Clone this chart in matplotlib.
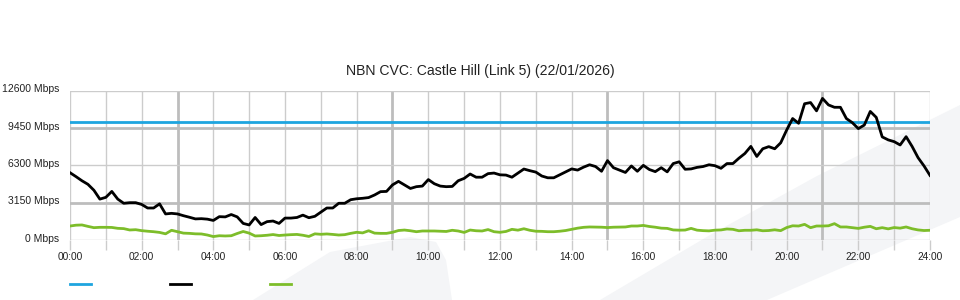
import numpy as np
import matplotlib
matplotlib.use("Agg")
import matplotlib.pyplot as plt
import matplotlib.transforms as mtransforms
from matplotlib.patches import Polygon

plt.rcParams['font.family'] = ['Liberation Sans', 'DejaVu Sans']

# traffic samples, one every 10 minutes from 00:00 to 24:00 (Mbps)
black = [5680, 5350, 5000, 4700, 4200, 3450,
         3600, 4100, 3450, 3100, 3150, 3150,
         3000, 2700, 2700, 3050, 2200, 2250,
         2200, 2050, 1920, 1780, 1800, 1760,
         1650, 1970, 1950, 2150, 1950, 1400,
         1270, 1900, 1300, 1550, 1600, 1400,
         1850, 1850, 1900, 2100, 1880, 2000,
         2350, 2700, 2700, 3100, 3100, 3400,
         3480, 3520, 3580, 3800, 4080, 4100,
         4650, 4950, 4650, 4350, 4500, 4550,
         5100, 4750, 4550, 4500, 4520, 5000,
         5200, 5570, 5300, 5300, 5600, 5650,
         5500, 5480, 5300, 5650, 5990, 5850,
         5730, 5400, 5250, 5250, 5500, 5750,
         6000, 5900, 6150, 6350, 6200, 5800,
         6700, 6100, 5900, 5700, 6250, 5800,
         6300, 5950, 5770, 6100, 5750, 6450,
         6600, 5970, 6000, 6130, 6200, 6350,
         6270, 6050, 6450, 6450, 6900, 7300,
         7900, 7050, 7700, 7880, 7700, 8200,
         9280, 10250, 9850, 11500, 11600, 10900,
         11950, 11400, 11200, 11200, 10250, 9900,
         9400, 9700, 10850, 10350, 8700, 8450,
         8300, 8020, 8720, 7900, 6950, 6250,
         5450]

green = [1180, 1250, 1270, 1150, 1040, 1070,
         1070, 1060, 985, 960, 845, 870,
         790, 740, 700, 640, 520, 820,
         700, 580, 560, 520, 510, 420,
         290, 360, 340, 360, 550, 720,
         580, 340, 360, 400, 460, 380,
         420, 450, 470, 400, 300, 520,
         480, 510, 470, 420, 450, 560,
         650, 600, 780, 580, 560, 560,
         650, 800, 840, 780, 700, 760,
         760, 760, 740, 720, 820, 760,
         640, 840, 780, 760, 880, 700,
         650, 720, 900, 830, 950, 820,
         740, 730, 700, 700, 740, 800,
         900, 1000, 1070, 1100, 1090, 1080,
         1050, 1080, 1090, 1100, 1180, 1180,
         1230, 1140, 1080, 1000, 980, 850,
         830, 840, 980, 830, 790, 770,
         830, 850, 930, 900, 780, 820,
         820, 860, 780, 800, 860, 790,
         1050, 1200, 1180, 1320, 1040, 1180,
         1180, 1200, 1380, 1100, 1100, 1040,
         980, 1080, 1150, 950, 1040, 940,
         1050, 1000, 1100, 950, 850, 800,
         820]

capacity = 10000
y_ticks = [0, 3150, 6300, 9450, 12600]
x_labels = ['00:00', '02:00', '04:00', '06:00', '08:00', '10:00', '12:00',
            '14:00', '16:00', '18:00', '20:00', '22:00', '24:00']
title = 'NBN CVC: Castle Hill (Link 5) (22/01/2026)'

hours = np.arange(len(black)) * 10 / 60

fig = plt.figure(figsize=(9.6, 3), dpi=100)
fig.patch.set_facecolor('white')

# pale background shapes, given in pixels
def px(pts):
    return [(x / 960, 1 - y / 300) for x, y in pts]

shapes = [
    [(253, 300), (330, 252), (410, 237), (436, 242), (446, 260), (452, 300)],
    [(600, 300), (710, 235), (817, 176), (960, 105), (960, 217), (767, 300)],
]
for pts in shapes:
    fig.patches.append(Polygon(px(pts), closed=True, transform=fig.transFigure,
                               facecolor='#f4f5f7', edgecolor='none', zorder=-5))

ax = fig.add_axes([70 / 960, 60 / 300, 860 / 960, 149.3 / 300])
ax.set_zorder(2)
ax.patch.set_alpha(0)

# grid
for h in range(25):
    if h % 6 == 3:
        ax.axvline(h, color='#bdbdbd', lw=2, zorder=1)
    else:
        ax.axvline(h, color='#cccccc', lw=1, zorder=1)
for v in y_ticks:
    if v in (3150, 9450):
        ax.axhline(v, color='#bdbdbd', lw=2, zorder=1)
    else:
        ax.axhline(v, color='#cccccc', lw=1, zorder=1)

ax.axhline(capacity, color='#1ea5df', lw=2, zorder=3)
ax.plot(hours, green, color='#7dbd2a', lw=2, zorder=3)
ax.plot(hours, black, color='black', lw=2, zorder=4)

ax.set_xlim(0, 24)
ax.set_ylim(0, 12600)
for s in ax.spines.values():
    s.set_visible(False)

ax.set_xticks(range(0, 25, 2))
ax.set_xticklabels(x_labels)
ax.set_xticks(range(1, 25, 2), minor=True)
ax.tick_params(axis='x', which='both', length=7, width=1, color='#cccccc',
               labelsize=7.3, labelcolor='#222222', pad=2)
ax.set_yticks(y_ticks)
ax.set_yticklabels([f'{v} Mbps' for v in y_ticks])
ax.tick_params(axis='y', length=0, labelsize=7.5, labelcolor='#222222', pad=7.5)
shift = mtransforms.ScaledTranslation(0, 2.5 / 100, fig.dpi_scale_trans)
for lab in ax.get_yticklabels():
    lab.set_transform(lab.get_transform() + shift)

fig.text(0.5, 1 - 71 / 300, title, ha='center', va='center', fontsize=10.1,
         color='#222222')

# legend swatches (no labels)
for x0, c in [(70, '#1ea5df'), (170, 'black'), (270, '#7dbd2a')]:
    fig.add_artist(plt.Line2D([x0 / 960, (x0 + 21) / 960], [1 - 284 / 300] * 2,
                              color=c, lw=2, transform=fig.transFigure))

fig.savefig('out.png', dpi=100)
